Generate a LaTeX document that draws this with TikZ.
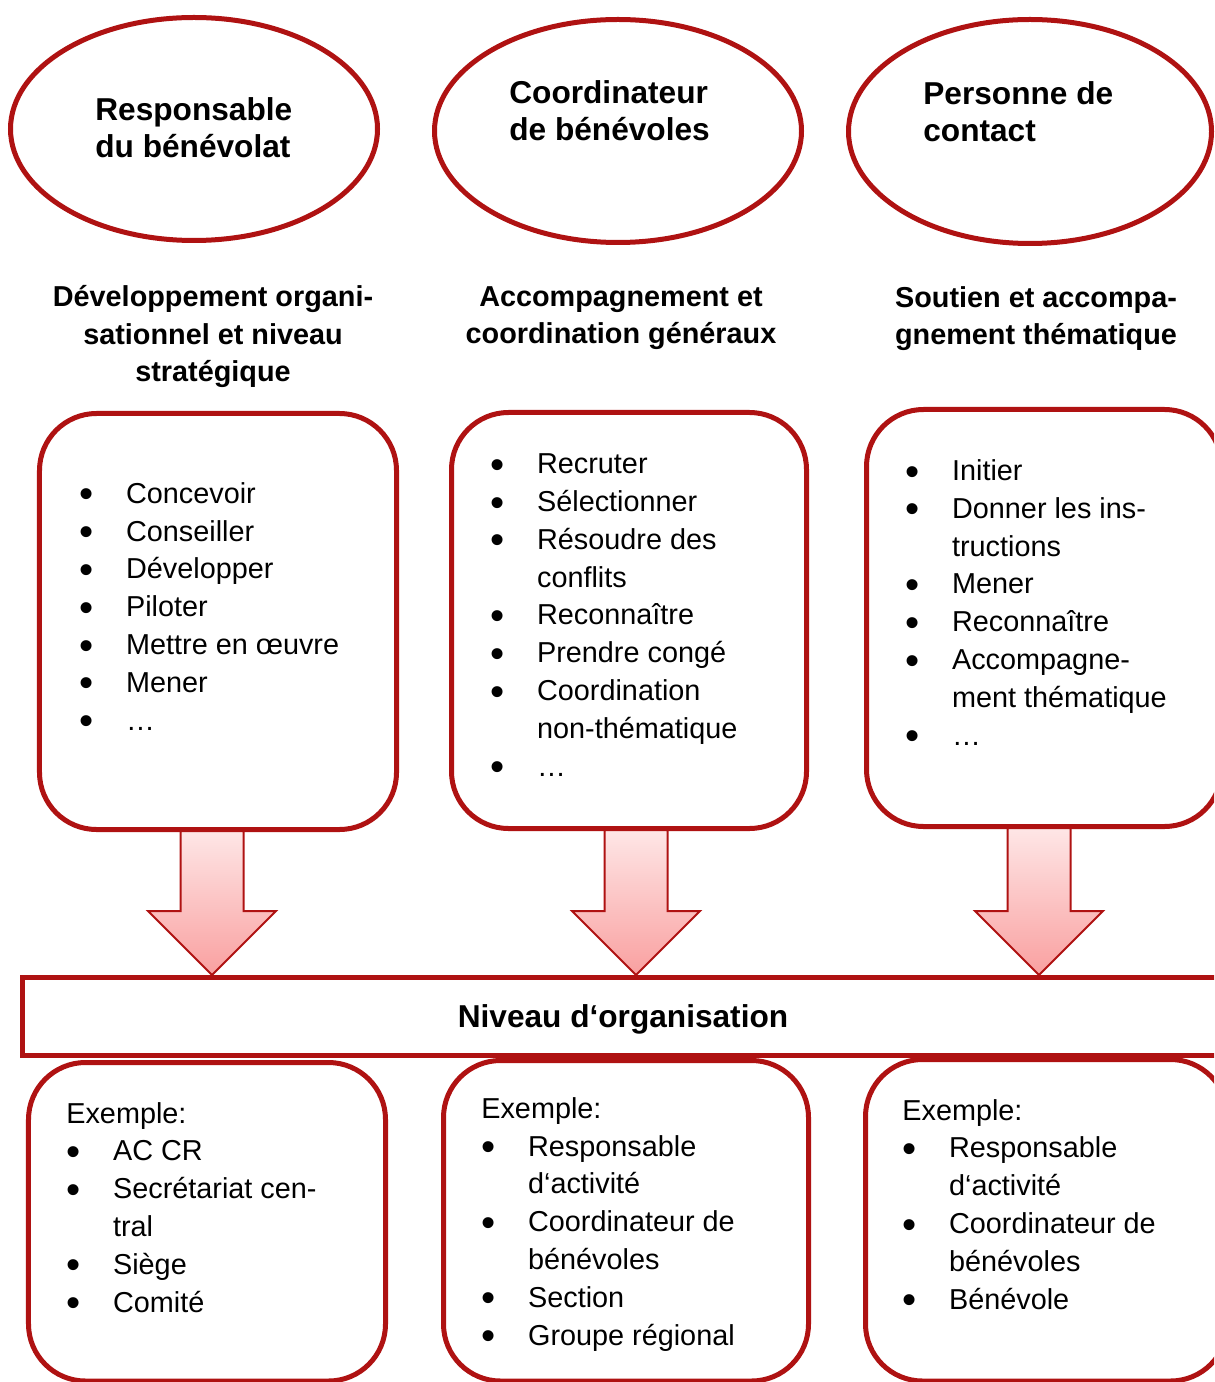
\documentclass[tikz,border=0pt]{standalone}
\usepackage{fontspec}
\setmainfont{Liberation Sans}
\usepackage{tikz}
\usetikzlibrary{shapes.geometric}
\usetikzlibrary{calc}

\definecolor{boxred}{RGB}{175,18,18}
\definecolor{arrowtop}{RGB}{254,230,230}
\definecolor{arrowbot}{RGB}{249,160,160}

\newcommand{\itm}{\makebox[26.6pt][l]{\raisebox{-2.6pt}{\scalebox{1.4}{\textbullet}}}}
\newcommand{\cnt}{\hspace*{26.6pt}}
\newcommand{\blockarrow}[2]{%
  \shade[arrowbody] ($(#1)+(-31.5,0)$) -- ($(#1)+(31.5,0)$) -- ($(#2)+(31.5,-64)$)
    -- ($(#2)+(64,-64)$) -- (#2) -- ($(#2)+(-64,-64)$) -- ($(#2)+(-31.5,-64)$) -- cycle;}

\begin{document}
\begin{tikzpicture}[x=0.2mm, y=-0.2mm,
    bubble/.style={ellipse,draw=boxred,line width=1mm,inner sep=0pt,minimum width=73.4mm,minimum height=44.6mm},
    card/.style={draw=boxred,line width=1mm,rounded corners=11.4mm,inner sep=0pt},
    title/.style={font=\fontsize{18}{21.5}\selectfont\bfseries,align=left,inner sep=0pt,anchor=base west},
    heading/.style={font=\fontsize{16.4}{21.5}\selectfont\bfseries,align=center,inner sep=0pt,anchor=base},
    list/.style={font=\fontsize{16.4}{21.5}\selectfont,align=left,inner sep=0pt,anchor=base west},
    arrowbody/.style={top color=arrowtop,bottom color=arrowbot,draw=boxred,line width=0.4mm}]

    \useasboundingbox (0,0) rectangle (1214,1382);
    \clip (0,0) rectangle (1214,1382);

    \node[bubble]                  (e1) at (194, 129)    {};
    \node[bubble]                  (e2) at (618, 131)    {};
    \node[bubble,minimum width=72.6mm,minimum height=44.8mm] (e3) at (1030, 131.5) {};

    % multi-line nodes: base is the last line
    \node[title]   (t1) at (95, 158)  {Responsable\\du bénévolat};
    \node[title]   (t2) at (509, 141) {Coordinateur\\de bénévoles};
    \node[title]   (t3) at (923, 142) {Personne de\\contact};

    \node[heading] (h1) at (213, 382)  {Développement organi-\\sationnel et niveau\\stratégique};
    \node[heading] (h2) at (621, 344)  {Accompagnement et\\coordination généraux};
    \node[heading] (h3) at (1036, 345) {Soutien et accompa-\\gnement thématique};

    \node[card,minimum width=71.4mm,minimum height=83.2mm] (c1) at (218, 621.5) {};
    \node[card,minimum width=71mm,minimum height=83.2mm]   (c2) at (629, 620.5) {};
    \node[card,minimum width=71mm,minimum height=83.4mm]   (c3) at (1044, 618)  {};

    \node[list] (l1) at (79, 730) {\itm Concevoir\\\itm Conseiller\\\itm Développer\\\itm Piloter\\
        \itm Mettre en œuvre\\\itm Mener\\\itm …};
    \node[list] (l2) at (490, 776) {\itm Recruter\\\itm Sélectionner\\\itm Résoudre des\\\cnt conflits\\
        \itm Reconnaître\\\itm Prendre congé\\\itm Coordination\\\cnt non-thématique\\\itm …};
    \node[list] (l3) at (905, 745) {\itm Initier\\\itm Donner les ins-\\\cnt tructions\\\itm Mener\\
        \itm Reconnaître\\\itm Accompagne-\\\cnt ment thématique\\\itm …};

    \node[draw=boxred,line width=1mm,inner sep=0pt,minimum width=240.2mm,minimum height=15.6mm,
        text height=13pt,text depth=0pt,
        font=\fontsize{18}{21.5}\selectfont\bfseries] (bar) at (623, 1016.5) {Niveau d‘organisation};

    \coordinate (a1) at (212, 831);
    \coordinate (a2) at (636, 830);
    \coordinate (a3) at (1039, 828);
    \blockarrow{a1}{a1 |- bar.north}
    \blockarrow{a2}{a2 |- bar.north}
    \blockarrow{a3}{a3 |- bar.north}

    \node[card,minimum width=71.4mm,minimum height=63.7mm] (c4) at (207, 1221.75)    {};
    \node[card,minimum width=73mm,minimum height=64.1mm]   (c5) at (626, 1220.75)    {};
    \node[card,minimum width=72.4mm,minimum height=64.3mm] (c6) at (1046.5, 1220.25) {};

    \node[list] (x1) at (66, 1312)  {Exemple:\\\itm AC CR\\\itm Secrétariat cen-\\\cnt tral\\\itm Siège\\\itm Comité};
    \node[list] (x2) at (481, 1345) {Exemple:\\\itm Responsable\\\cnt d‘activité\\\itm Coordinateur de\\
        \cnt bénévoles\\\itm Section\\\itm Groupe régional};
    \node[list] (x3) at (902, 1309) {Exemple:\\\itm Responsable\\\cnt d‘activité\\\itm Coordinateur de\\
        \cnt bénévoles\\\itm Bénévole};
\end{tikzpicture}
\end{document}
